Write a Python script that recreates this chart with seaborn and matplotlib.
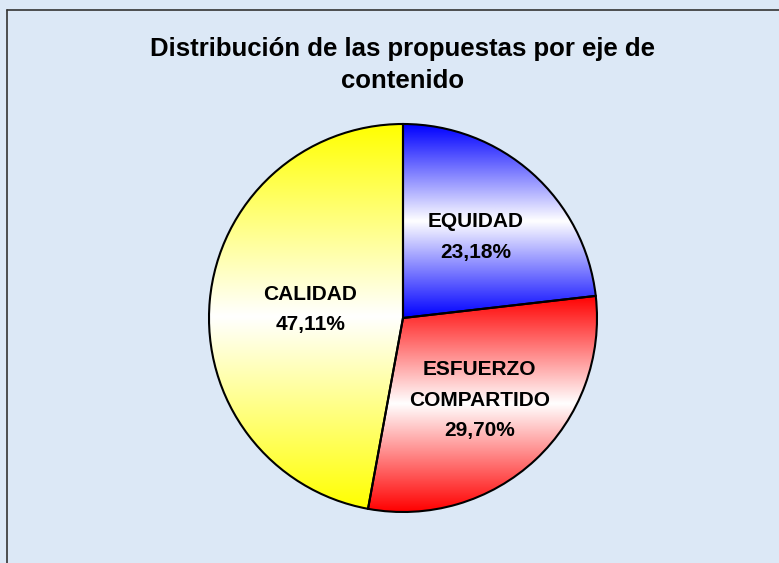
import numpy as np
import matplotlib
matplotlib.use("Agg")
import matplotlib.pyplot as plt
from matplotlib.colors import to_rgb
from matplotlib.lines import Line2D
import seaborn as sns

# data
categories = ["EQUIDAD", "ESFUERZO\nCOMPARTIDO", "CALIDAD"]
shares = [23.18, 29.70, 47.11]
share_labels = ["23,18%", "29,70%", "47,11%"]
slice_colors = ["#0000FF", "#FF0000", "#FFFF00"]
title = "Distribución de las propuestas por eje de\ncontenido"

sns.set_theme(style="white")
plt.rcParams["font.family"] = ["Liberation Sans", "DejaVu Sans"]

W, H = 779, 563
fig = plt.figure(figsize=(W / 100, H / 100), dpi=100)
fig.patch.set_facecolor("#DCE8F6")
ax = fig.add_axes([0, 0, 1, 1])
ax.set_facecolor("none")
ax.axis("off")

cx, cy, r = 403, H - 318, 194
wedges, _ = ax.pie(shares, startangle=90, counterclock=False, center=(cx, cy),
                   radius=r, wedgeprops=dict(edgecolor="black", linewidth=1.5))

# vertical gradient: colour - white - colour over each slice
t = np.linspace(0, 1, 256)
k = np.abs(2 * t - 1)[:, None]
for w, col in zip(wedges, slice_colors):
    c = np.array(to_rgb(col))
    grad = 1 - k * (1 - c)[None, :]
    grad = grad[:, None, :]
    ext = w.get_path().get_extents()
    im = ax.imshow(grad, extent=(ext.x0, ext.x1, ext.y0, ext.y1), origin="lower",
                   aspect="auto", zorder=1, interpolation="bilinear")
    im.set_clip_path(w)
    w.set_facecolor("none")
    w.set_zorder(3)

# labels
label_r = [0.56, 0.58, 0.48]
for w, name, pct, lr in zip(wedges, categories, share_labels, label_r):
    mid = np.deg2rad((w.theta1 + w.theta2) / 2)
    ax.text(cx + lr * r * np.cos(mid), cy + lr * r * np.sin(mid), name + "\n" + pct,
            ha="center", va="center", fontsize=15, fontweight="bold",
            linespacing=1.78, color="black", zorder=4)

ax.text(403, H - 65, title, ha="center", va="center", fontsize=18.5,
        fontweight="bold", linespacing=1.45, color="black")

ax.set_xlim(0, W)
ax.set_ylim(0, H)

# frame only visible on top and left
fig.add_artist(Line2D([7 / W, 7 / W], [0, 1 - 10 / H], color="#333333", lw=1.2))
fig.add_artist(Line2D([7 / W, 1], [1 - 10 / H, 1 - 10 / H], color="#333333", lw=1.2))

fig.savefig("out.png", dpi=100, facecolor=fig.get_facecolor())
